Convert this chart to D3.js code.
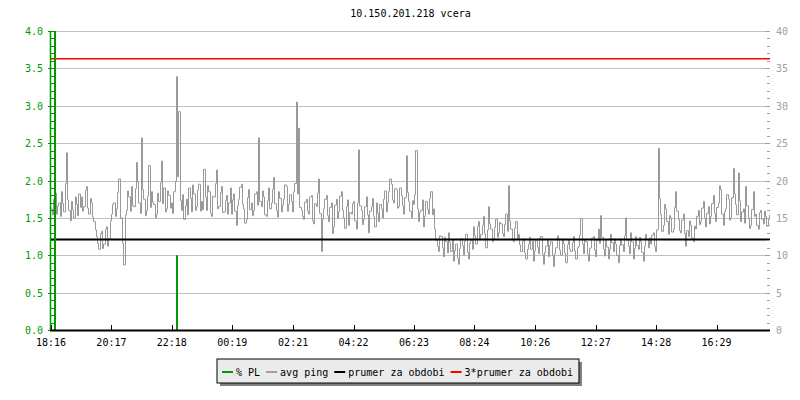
<!DOCTYPE html>
<html><head><meta charset="utf-8">
<script src="https://cdn.jsdelivr.net/npm/d3@7"></script>
<style>body{margin:0;background:#fff}svg{display:block}text{font-family:"DejaVu Sans Mono",monospace}</style>
</head><body><svg id="c" width="800" height="400"></svg>
<script>
const title = "10.150.201.218 vcera";
const startTime = "2000-01-01T18:16";
const sampleSeconds = 150;
// avg ping [ms], one value per 2.5 minutes from 18:16 (24 per hour)
const avgPing = [
16.2,15.4,17.5,18.3,15.5,16.6,17.0,15.2,18.5,16.9,15.8,19.6,23.7,17.4,16.0,14.6,17.2,16.1,15.0,17.8,16.8,15.3,18.2,16.4,
17.8,15.9,16.5,18.7,19.2,16.3,15.5,17.6,17.0,15.1,14.5,13.4,12.5,11.6,10.8,12.9,13.2,10.9,11.5,13.5,13.8,11.2,12.2,14.6,
15.5,16.8,17.0,15.2,16.2,18.4,20.2,14.9,15.0,11.6,8.7,15.4,16.0,18.6,17.8,15.9,19.2,16.7,16.5,18.9,22.4,19.8,17.0,15.6,
25.7,18.8,17.5,15.3,16.0,17.9,22.0,16.4,18.5,17.1,16.8,15.0,15.5,18.3,17.2,19.7,22.6,16.9,19.0,15.8,16.2,18.6,18.0,16.3,
17.0,15.6,18.5,19.9,33.9,20.5,29.2,17.3,16.0,18.1,14.8,16.6,17.5,15.4,19.0,17.6,15.8,19.4,18.2,16.0,16.5,18.7,19.5,15.9,
17.2,16.1,21.5,17.8,16.0,19.3,18.5,15.6,15.2,17.9,17.8,19.6,21.4,16.2,16.5,18.4,19.2,15.7,15.8,17.3,18.0,15.5,17.0,19.0,
15.5,17.4,18.2,15.9,14.0,16.6,17.5,19.1,19.5,16.8,16.2,14.3,14.8,17.7,18.8,16.1,17.0,15.3,16.0,18.2,18.5,16.7,25.7,17.2,
16.5,18.6,17.8,15.4,15.2,17.3,19.0,16.2,17.0,18.8,20.4,16.9,16.0,15.1,18.5,17.6,15.8,16.7,17.5,19.4,19.2,15.9,16.8,18.1,
17.2,15.8,18.5,19.6,30.5,18.2,27.0,16.4,16.0,15.2,14.8,17.1,17.5,15.9,15.5,17.8,18.0,14.6,14.2,16.9,16.5,18.3,20.2,15.6,
10.5,14.8,16.2,17.5,18.0,15.3,14.5,16.4,17.0,12.9,13.8,16.7,17.5,14.9,15.8,17.9,18.5,16.0,15.0,13.6,16.5,17.4,14.0,15.7,
15.5,16.9,17.2,14.6,13.5,17.0,24.1,16.6,16.0,14.1,14.8,16.5,17.8,15.4,13.0,15.9,16.5,17.6,15.2,13.8,17.0,15.6,14.5,16.8,
16.2,15.0,17.5,18.6,15.8,17.1,18.5,20.2,19.5,17.4,17.0,18.9,18.8,16.3,16.5,19.0,18.0,16.6,15.5,17.7,23.3,18.4,17.2,15.9,
15.0,17.3,16.8,18.1,24.0,16.2,14.5,15.7,16.0,17.4,13.8,15.2,17.2,16.1,15.5,17.6,18.5,15.4,16.2,13.5,12.0,11.2,10.5,12.6,
12.5,11.0,9.8,12.4,11.8,10.3,13.0,11.7,10.5,12.1,9.2,10.6,11.5,9.6,8.8,10.9,12.2,11.3,10.0,11.9,12.8,10.4,9.5,11.6,
12.0,10.8,13.8,12.6,11.5,13.9,14.5,12.2,12.8,14.0,15.2,12.9,11.0,13.4,16.5,14.2,13.5,11.8,12.2,13.7,14.8,12.4,13.0,14.4,
14.2,12.9,12.5,14.1,15.5,13.2,19.3,14.6,13.5,12.0,11.8,13.6,14.5,12.1,12.8,11.4,10.5,11.9,12.2,10.3,9.5,10.8,11.5,12.4,
10.8,11.9,9.2,10.6,12.0,11.1,10.2,12.3,12.5,10.1,8.8,10.4,11.2,12.0,9.8,11.3,11.8,9.9,8.5,10.2,11.0,12.6,12.2,10.7,
10.0,12.1,11.5,10.3,9.0,11.4,12.0,10.8,10.5,11.7,12.5,10.6,9.5,11.0,11.2,12.7,14.9,11.5,10.2,12.0,11.8,10.1,9.2,10.9,
11.0,12.3,12.5,10.7,9.8,12.0,13.5,11.6,15.3,12.4,10.8,9.9,12.0,11.1,9.5,10.8,12.8,11.7,10.5,12.2,11.5,10.0,9.0,11.3,
12.2,11.4,10.5,12.6,15.0,12.0,11.2,10.2,13.0,11.8,9.5,10.9,12.5,11.3,10.8,12.4,11.8,10.4,9.2,11.2,12.8,12.1,11.0,12.3,
11.5,12.7,13.0,11.2,10.5,13.4,24.3,17.6,15.5,13.2,14.0,16.8,16.2,14.5,12.8,15.3,15.0,13.1,13.5,16.4,18.5,15.9,14.8,13.3,
13.0,14.7,15.5,12.9,11.2,13.3,12.5,14.6,14.0,12.3,11.8,13.9,13.5,15.2,16.0,14.1,14.5,16.3,17.2,14.9,13.8,15.6,16.5,14.2,
15.2,16.9,18.0,15.6,14.5,16.4,17.0,19.3,18.8,15.5,14.0,15.8,16.2,18.1,17.5,14.7,15.0,17.7,21.6,18.2,16.8,15.4,21.0,17.3,
14.5,15.8,16.2,14.3,19.2,16.6,15.0,13.6,14.0,16.1,18.5,15.2,15.5,14.0,13.5,15.7,16.0,14.8,14.2,15.9,15.2,13.9,14.8,15.4
];
// packet loss [%] events
const plTimes = ["18:24", "22:28"];
const plValues = [100, 1.0];
const prumer = 12.1;           // average over the period [ms]
const xTickLabels = ["18:16","20:17","22:18","00:19","02:21","04:22","06:23","08:24","10:26","12:27","14:28","16:29"];
const leftTicks = [0,0.5,1,1.5,2,2.5,3,3.5,4];
const rightTicks = [0,5,10,15,20,25,30,35,40];
const legendItems = [
  {label:"% PL", color:"#009900"},
  {label:"avg ping", color:"#a0a0a0"},
  {label:"prumer za obdobi", color:"#000000"},
  {label:"3*prumer za obdobi", color:"#ff0000"}
];

const svg = d3.select("#c");
const L = 51, R = 770, T = 31, B = 330;
const t0 = new Date(startTime);
const t1 = d3.timeMinute.offset(t0, 24*60);
const x = d3.scaleTime().domain([t0, t1]).range([L, R]);
const yL = d3.scaleLinear().domain([0, 4]).range([B, T]);
const yR = d3.scaleLinear().domain([0, 40]).range([B, T]);
function parseHM(s){
  const [h,m] = s.split(":").map(Number);
  let d = new Date(t0); d.setHours(h, m, 0, 0);
  if (d < t0) d = d3.timeDay.offset(d, 1);
  return d;
}

svg.append("defs").append("clipPath").attr("id","clip")
  .append("rect").attr("x",L).attr("y",T).attr("width",R-L).attr("height",B-T);

// title
svg.append("text").attr("x",(L+R)/2).attr("y",17).attr("text-anchor","middle")
  .attr("font-size",10).attr("fill","#000").text(title);

// grid
svg.append("g").selectAll("line").data(leftTicks.filter(d=>d>0)).join("line")
  .attr("x1",L).attr("x2",R).attr("y1",d=>Math.round(yL(d))+0.5).attr("y2",d=>Math.round(yL(d))+0.5)
  .attr("stroke","#c0c0c0").attr("stroke-width",1);

const plot = svg.append("g").attr("clip-path","url(#clip)");
// avg ping line
const pingData = avgPing.map((v,i)=>({t:d3.timeSecond.offset(t0,i*sampleSeconds), v}));
plot.append("path").datum(pingData)
  .attr("d", d3.line().x(d=>Math.round(x(d.t))+0.5).y(d=>yR(d.v)).curve(d3.curveStepAfter))
  .attr("fill","none").attr("stroke","#9a9a9a").attr("stroke-width",1);

// average lines
plot.append("line").attr("x1",L).attr("x2",R).attr("y1",yR(prumer)).attr("y2",yR(prumer))
  .attr("stroke","#000").attr("stroke-width",2);
plot.append("line").attr("x1",L).attr("x2",R).attr("y1",yR(3*prumer)).attr("y2",yR(3*prumer))
  .attr("stroke","#ff0000").attr("stroke-width",1.5);

// PL bars
plot.append("g").selectAll("line").data(plTimes.map((t,i)=>({t:parseHM(t), v:plValues[i]}))).join("line")
  .attr("x1",d=>Math.round(x(d.t))).attr("x2",d=>Math.round(x(d.t)))
  .attr("y1",yL(0)).attr("y2",d=>yL(d.v))
  .attr("stroke","#009900").attr("stroke-width",2);

// left axis (green)
const gL = svg.append("g");
gL.append("line").attr("x1",L-0.5).attr("x2",L-0.5).attr("y1",T).attr("y2",B).attr("stroke","#009900").attr("stroke-width",1.5);
gL.selectAll("line.minor").data(d3.range(0,41)).join("line").attr("class","minor")
  .attr("x1",d=>d%5===0?L-3:L).attr("x2",L+4)
  .attr("y1",d=>Math.round(yL(d/10))+0.5).attr("y2",d=>Math.round(yL(d/10))+0.5)
  .attr("stroke","#009900").attr("stroke-width",1);
gL.selectAll("text").data(leftTicks).join("text")
  .attr("x",L-8).attr("y",d=>yL(d)+4).attr("text-anchor","end")
  .attr("font-size",10).attr("fill","#009900").text(d=>d3.format(".1f")(d));

// right axis (gray)
const gR = svg.append("g");
gR.append("line").attr("x1",R+0.5).attr("x2",R+0.5).attr("y1",T).attr("y2",B).attr("stroke","#a0a0a0");
gR.selectAll("line").data(d3.range(0,41)).join("line")
  .attr("x1",d=>d%5===0?R-5:R-3).attr("x2",R)
  .attr("y1",d=>Math.round(yR(d))+0.5).attr("y2",d=>Math.round(yR(d))+0.5)
  .attr("stroke","#a0a0a0");
gR.selectAll("text").data(rightTicks).join("text")
  .attr("x",R+6).attr("y",d=>yR(d)+4).attr("text-anchor","start")
  .attr("font-size",10).attr("fill","#a0a0a0").text(d=>d);

// bottom axis
const gB = svg.append("g");
gB.append("line").attr("x1",L-1).attr("x2",R).attr("y1",B+0.5).attr("y2",B+0.5).attr("stroke","#000").attr("stroke-width",2);
const xt = xTickLabels.map(s=>({s, t:parseHM(s)}));
gB.selectAll("line.tk").data(xt).join("line").attr("class","tk")
  .attr("x1",d=>Math.round(x(d.t))+0.5).attr("x2",d=>Math.round(x(d.t))+0.5)
  .attr("y1",B-5).attr("y2",B).attr("stroke","#000");
gB.selectAll("text").data(xt).join("text")
  .attr("x",d=>x(d.t)).attr("y",B+16).attr("text-anchor","middle")
  .attr("font-size",10).attr("fill","#000").text(d=>d.s);

// legend
const lg = svg.append("g");
const items = lg.append("g");
let cx = 0;
legendItems.forEach((it,i)=>{
  const g = items.append("g").attr("transform",`translate(${cx},0)`);
  g.append("line").attr("x1",0).attr("x2",11).attr("y1",0).attr("y2",0).attr("stroke",it.color).attr("stroke-width",2);
  const tx = g.append("text").attr("x",14).attr("y",4).attr("font-size",10).attr("fill","#000").text(it.label);
  cx += 14 + tx.node().getComputedTextLength() + 6;
});
const totalW = cx - 6;
const boxW = totalW + 11, boxX = 217, boxY = 359, boxH = 24;
lg.insert("rect",":first-child").attr("x",boxX).attr("y",boxY).attr("width",boxW).attr("height",boxH)
  .attr("fill","#ebebeb").attr("stroke","#000").attr("stroke-width",1);
lg.insert("rect",":first-child").attr("x",boxX+3).attr("y",boxY+3).attr("width",boxW).attr("height",boxH)
  .attr("fill","#808080");
items.attr("transform",`translate(${boxX+5},${boxY+13})`);
</script></body></html>
